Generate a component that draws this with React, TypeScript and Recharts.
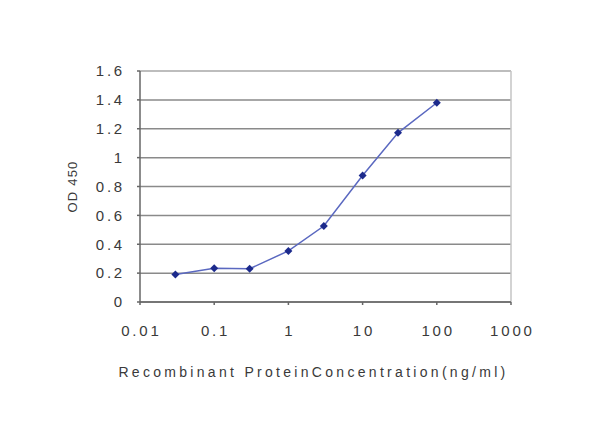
import React from 'react';
import {
  LineChart,
  Line,
  XAxis,
  YAxis,
  CartesianGrid,
  ReferenceLine,
} from 'recharts';

const concentrations = [0.03, 0.1, 0.3, 1, 3, 10, 30, 100];
const odValues = [0.19, 0.234, 0.23, 0.354, 0.526, 0.876, 1.172, 1.38];

const xTicks = [0.01, 0.1, 1, 10, 100, 1000];
const xTickLabels = ['0.01', '0.1', '1', '10', '100', '1000'];
const yTicks = [0, 0.2, 0.4, 0.6, 0.8, 1, 1.2, 1.4, 1.6];
const yTickLabels = ['0', '0.2', '0.4', '0.6', '0.8', '1', '1.2', '1.4', '1.6'];

const chartData = concentrations.map((c, i) => ({ conc: c, od: odValues[i] }));

const font = '"Liberation Sans", Arial, sans-serif';
const tickStyle = { fontSize: 15, fill: '#3a3a3a', fontFamily: font, letterSpacing: 2.8 };

function Diamond(props: any) {
  const { cx, cy } = props;
  if (cx == null || cy == null) return null;
  const r = 4;
  return (
    <polygon
      points={`${cx},${cy - r} ${cx + r},${cy} ${cx},${cy + r} ${cx - r},${cy}`}
      fill="#1c2a8c"
    />
  );
}

export default function App() {
  return (
    <div style={{ position: 'absolute', left: 0, top: 0, width: 600, height: 430, background: '#fff' }}>
      <LineChart
        width={600}
        height={430}
        data={chartData}
        margin={{ top: 71, right: 89, left: 62, bottom: 48 }}
      >
        <CartesianGrid vertical={false} stroke="#8a8a8a" strokeWidth={1.5} />
        <XAxis
          dataKey="conc"
          type="number"
          scale="log"
          domain={[0.01, 1000]}
          ticks={xTicks}
          tickFormatter={(v) => xTickLabels[xTicks.indexOf(v)] ?? String(v)}
          allowDataOverflow
          height={80}
          tick={{ ...tickStyle, dx: 1.4 }}
          tickSize={3}
          tickMargin={20}
          stroke="#666"
          strokeWidth={1.5}
          label={{
            value: 'Recombinant ProteinConcentration(ng/ml)',
            position: 'insideBottom',
            offset: 5,
            dx: -12,
            style: { fontSize: 14, fill: '#3a3a3a', fontFamily: font, letterSpacing: 3.3 },
          }}
        />
        <YAxis
          type="number"
          domain={[0, 1.6]}
          ticks={yTicks}
          tickFormatter={(v) => yTickLabels[yTicks.indexOf(v)] ?? String(v)}
          width={78}
          tick={tickStyle}
          tickSize={3}
          tickMargin={12}
          stroke="#666"
          strokeWidth={1.5}
          label={{
            value: 'OD 450',
            angle: -90,
            position: 'insideLeft',
            offset: 10,
            style: { fontSize: 13, fill: '#3a3a3a', fontFamily: font, textAnchor: 'middle', letterSpacing: 1.2 },
          }}
        />
        <ReferenceLine y={1.6} stroke="#c4c4c4" strokeWidth={1.5} />
        <ReferenceLine x={1000} stroke="#c4c4c4" strokeWidth={1.5} />
        <Line
          type="linear"
          dataKey="od"
          stroke="#5a68c0"
          strokeWidth={1.5}
          dot={<Diamond />}
          activeDot={false}
          isAnimationActive={false}
        />
      </LineChart>
    </div>
  );
}
